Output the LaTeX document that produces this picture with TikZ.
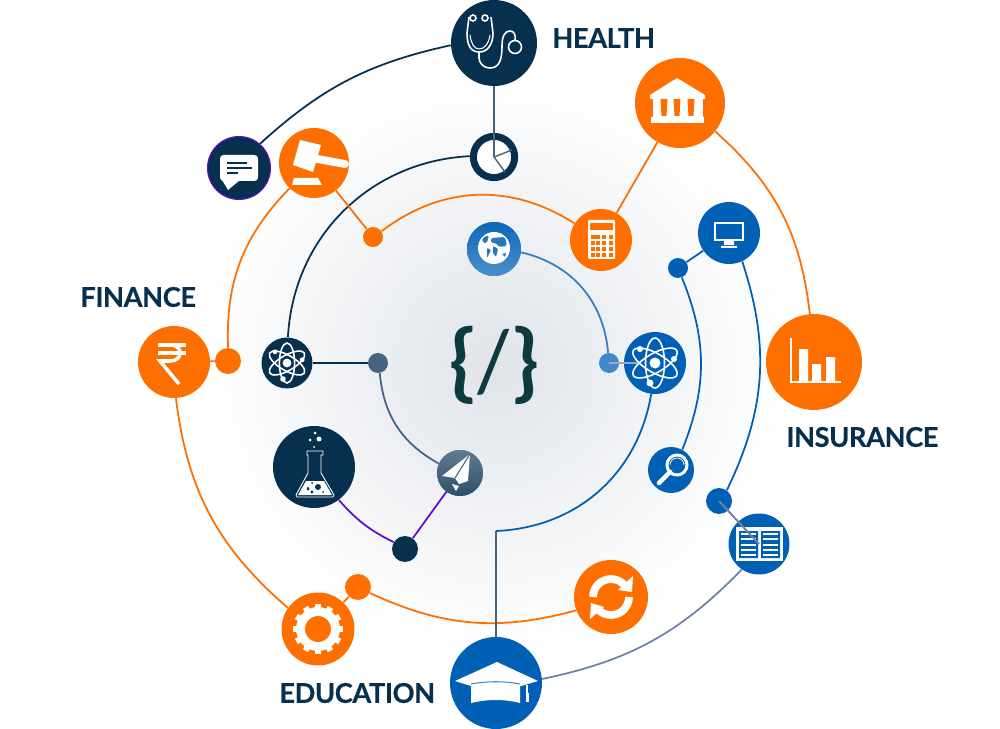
\documentclass[tikz,border=0pt]{standalone}
\usepackage{fontspec}
\setmainfont{Lato}
\newfontfamily\lblfont[FakeBold=0.4,LetterSpace=-1.5]{Lato Bold}
\definecolor{dorange}{HTML}{FF6F00}
\definecolor{dnavy}{HTML}{07304F}
\definecolor{dblue}{HTML}{0060B5}
\definecolor{dviolet}{HTML}{5B10D0}
\definecolor{dslate}{HTML}{46647F}
\definecolor{dsteel}{HTML}{6F82A6}
\definecolor{dteal}{HTML}{0C3A3E}
\definecolor{dhaze}{HTML}{E0E4E9}
\tikzset{
	orb/.style 2 args={circle,inner sep=0pt,fill=#1,minimum size=#2*0.04cm},
	odot/.style={orb={dorange}{#1}},
	ndot/.style={orb={dnavy}{#1}},
	bdot/.style={orb={dblue}{#1}},
	oline/.style={dorange,line width=1pt},
	nline/.style={dnavy,line width=1pt},
	bline/.style={dblue,line width=1pt},
	vline/.style={dviolet,line width=1pt},
	sline/.style={dslate,line width=1pt},
	glyph/.style={draw=white,line width=0.9pt},
	lbl/.style={anchor=west,inner sep=0pt,text=dnavy,font=\fontsize{15.5}{18}\lblfont},
	atomsym/.pic={
		\foreach \a in {30,90,150} {
			\draw [glyph,rotate=\a] (0,0) ellipse (25 and 9.5);
		}
		\fill [white] (0,0) circle (5.5);
		\fill [white] (-15,-14) circle (3);
		\fill [white] (19,-4) circle (3);
		\fill [white] (-5,20) circle (3.5);
	}
}
\begin{document}
\begin{tikzpicture}[x=0.02cm,y=-0.02cm]
	\useasboundingbox (0,0) rectangle (1000,729);
	\shade [inner color=dhaze,outer color=white] (494,365) circle (290);

	\node [ndot=43] (health) at (494,43) {};
	\node [circle,draw=dnavy,fill=white,line width=4pt,inner sep=0pt,minimum size=1.65cm/2] (pie) at (494,157) {};
	\node [ndot=31.5,draw=dviolet,line width=0.6pt] (chat) at (239,168) {};
	\node [odot=35] (gavel) at (314,163) {};
	\node [odot=10] (jointa) at (373,237) {};
	\node [odot=31] (calc) at (601,240) {};
	\node [odot=45] (bank) at (680,103) {};
	\node [odot=48] (chart) at (814,362) {};
	\node [bdot=31] (monitor) at (729,233) {};
	\node [bdot=10] (jointb) at (678,268) {};
	\node [bdot=31] (atomr) at (655,363) {};
	\node [orb={dblue!75!white}{10}] (jointc) at (609,363) {};
	\node [orb={dblue}{27},top color=dblue!95!white,bottom color=dblue!70!white] (globe) at (494,249) {};
	\node [bdot=23] (lens) at (671,470) {};
	\node [bdot=13] (jointd) at (719,501) {};
	\node [bdot=30.5] (book) at (759,544) {};
	\node [odot=37] (renew) at (611,597) {};
	\node [bdot=46] (grad) at (496,683) {};
	\node [odot=36.5] (gear) at (318,629) {};
	\node [odot=13] (jointe) at (358,587) {};
	\node [odot=36] (rupee) at (174,362) {};
	\node [odot=13] (jointf) at (228,361) {};
	\node [ndot=25.5] (atoml) at (287,363) {};
	\node [orb={dslate}{10}] (jointg) at (378,363) {};
	\node [orb={dslate}{23},top color=dslate!85!white,bottom color=dnavy!85!white] (plane) at (460,473) {};
	\node [ndot=41] (flask) at (314,467) {};
	\node [ndot=13] (jointh) at (405,549) {};
	\coordinate (corner) at (496,531);
	\coordinate (atomtip) at (637,363);

	\node [lbl] (lhealth) at (552,38) {HEALTH};
	\node [lbl] (lfinance) at (80,297) {FINANCE};
	\node [lbl] (linsurance) at (786,437) {INSURANCE};
	\node [lbl] (leducation) at (279,693) {EDUCATION};
	\node [text=dteal,font=\fontsize{48}{54}\selectfont] (code) at (494,365) {\textbf{\{}/\textbf{\}}};

	\draw [nline] (chat.49) to [bend left=15] (health.183);
	\draw [nline] (pie.178) to [bend right=42] (atoml.88);
	\draw [oline] (gavel.226) to [bend right=23] (jointf.90);
	\draw [oline] (gavel) -- (jointa);
	\draw [oline] (jointa.34) to [bend left=35] (calc.148);
	\draw [oline] (calc) -- (bank);
	\draw [oline] (bank.321) to [bend left=21] (chart.95);
	\draw [oline] (rupee) -- (jointf);
	\draw [oline] (rupee.273) to [bend right=21] (gear.145);
	\draw [oline] (gear) -- (jointe);
	\draw [oline] (jointe.333) to [bend right=20] (renew.201);
	\draw [dblue!80!white,line width=1pt] (globe.353) to [bend left=36] (jointc.95);
	\draw [bline] (atomr.263) to [bend left=39] (corner);
	\draw [dslate,line width=1.1pt] (corner) -- (grad);
	\draw [bline] (monitor) -- (jointb);
	\draw [bline] (jointb.292) to [bend left=22] (lens.61);
	\draw [bline] (monitor.295) to [bend left=22] (jointd.54);
	\draw [dsteel,line width=1pt] (book.236) to [bend left=17] (grad.5);
	\draw [nline] (atoml) -- (jointg);
	\draw [sline] (jointg.280) to [bend right=28] (plane.156);
	\draw [vline] (plane) -- (jointh);
	\draw [vline] (flask.307) to [bend right=11] (jointh.149);

	% stethoscope
	\draw [glyph] (473,18) circle (3) (485,18) circle (3) (515,47) circle (6.5);
	\draw [glyph] (469,17) -- (467,33) .. controls (467,44) and (470,52) .. (479,52) .. controls (488,52) and (493,44) .. (493,33) -- (491,17);
	\draw [glyph,line width=0.6pt] (470,35) .. controls (471,43) and (474,49) .. (479,49) .. controls (485,49) and (489,43) .. (490,35);
	\draw [glyph] (479,52) -- (479,58) .. controls (480,66) and (486,68) .. (490,68) .. controls (500,68) and (502,58) .. (502,46) .. controls (502,36) and (505,31) .. (510,31) .. controls (514,31) and (516,35) .. (515,40);
	% pie
	\draw [dslate,line width=1.4pt] (health) -- (pie.center);
	\draw [dslate,line width=0.8pt] (512,150) -- (pie.center) -- (505,172);
	% chat
	\fill [white,rounded corners=2pt] (220,155) rectangle (258,181);
	\fill [white] (222,180) -- (228,190) -- (240,180) -- cycle;
	\draw [dnavy,line width=0.8pt] (227,163) -- (247,163) (227,168) -- (252,168) (227,173) -- (238,173);
	% gavel
	\fill [white] (300,140) -- (321,145) -- (313,172) -- (293,165) -- cycle;
	\draw [white,line width=4.5pt,line cap=round] (312,158) -- (345,164);
	\fill [white] (294,178) -- (318,178) -- (322,185) -- (292,185) -- cycle;
	% calculator
	\fill [white,rounded corners=0.5pt] (588,220) rectangle (615,259);
	\fill [dorange] (590,223) rectangle (613,230);
	\fill [dorange] (591,235) rectangle (600,239);
	\foreach \x/\y in {604/237,611/237} { \fill [dorange] (\x-2,\y-2) rectangle (\x+2,\y+2); }
	\foreach \y in {243,249,255} {
		\foreach \x in {593,598,604,611} {
			\fill [dorange] (\x-1.8,\y-1.8) rectangle (\x+1.8,\y+1.8);
		}
	}
	% bank
	\fill [white] (677,78) -- (705,95) -- (705,99) -- (650,99) -- (650,95) -- cycle;
	\fill [white] (653,98) rectangle (703,118);
	\fill [white] (651,117) rectangle (704,123);
	\foreach \x in {664,677,691} {
		\fill [dorange] (\x-3.5,99) -- (\x+3.5,99) -- (\x+2.5,116) -- (\x-2.5,116) -- cycle;
	}
	% bars
	\draw [white,line width=0.6pt] (791,338) -- (791,382) -- (841,382);
	\fill [white] (799,349) rectangle (808,382) (812,364) rectangle (821,382) (826,357) rectangle (835,382);
	% monitor
	\draw [white,line width=1.3pt] (715,223) rectangle (743,240);
	\fill [white] (724,241) rectangle (734,245) (721,246) rectangle (737,248);
	% atoms
	\pic at (atomr) {atomsym};
	\pic [scale=0.8] at (atoml) {atomsym};
	\draw [dsteel!70!white,line width=0.8pt] (jointc.center) -- (atomtip);
	% globe
	\fill [white] (494,248) circle (16);
	\fill [dblue!85!white,rounded corners=1pt] (482,238) -- (489,235) -- (487,243) -- (483,243) -- cycle;
	\fill [dblue!85!white,rounded corners=0.5pt] (487,248) -- (491,250) -- (487,258) -- cycle;
	\fill [dblue!85!white,rounded corners=1pt] (491,238) -- (505,237) -- (507,246) -- (499,247) -- (496,243) -- (491,243) -- cycle;
	\fill [dblue!85!white,rounded corners=0.5pt] (493,246) -- (498,249) -- (496,257) -- (493,253) -- cycle;
	\fill [dblue!85!white] (502,254) -- (506,253) -- (505,257) -- cycle;
	% lens
	\draw [white,line width=1.7pt] (677,465) circle (10);
	\draw [white,line width=0.4pt] (670,465) arc [start angle=180,end angle=360,radius=7];
	\draw [white,line width=2.6pt,line cap=round] (670,472) -- (659,483);
	% book
	\fill [white] (736,527) rectangle (783,561);
	\fill [dblue] (739,531) rectangle (758,558) (761,531) rectangle (780,558);
	\foreach \y in {534,539,545,550,555} {
		\draw [white,line width=0.6pt] (741,\y) -- (756,\y) (763,\y) -- (778,\y);
	}
	\draw [dsteel,line width=1.1pt] (jointd.center) -- (book.center);
	% renew
	\draw [white,line width=4.4pt] (593,597) arc [start angle=180,end angle=325,radius=18];
	\fill [white] (633,576) -- (632,592) -- (618,590) -- cycle;
	\draw [white,line width=4.4pt] (629,597) arc [start angle=0,end angle=140,radius=18];
	\fill [white] (590,619) -- (591,603) -- (604,607) -- cycle;
	% graduation cap
	\fill [white] (471,684) .. controls (487,680) and (505,680) .. (520,684) -- (520,703) .. controls (505,699) and (487,699) .. (471,703) -- cycle;
	\fill [white] (497,662) -- (538,681) -- (521,686) -- (471,686) -- (455,681) -- cycle;
	\draw [dblue!75!white,line width=0.6pt] (471,684) .. controls (487,681) and (505,681) .. (520,684);
	\draw [white,line width=0.6pt] (527,685) -- (527,694);
	\fill [white] (525.5,693) rectangle (528.5,702);
	% gear
	\draw [white,line width=5pt] (gear.center) circle (17.5);
	\foreach \a in {0,30,...,330} {
		\fill [white,rotate around={\a:(gear.center)}] (315,604) rectangle (321,610);
	}
	% rupee
	\draw [white,line width=2pt] (158,345) -- (186,345) (158,353) -- (186,353);
	\draw [white,line width=2pt] (169,345) .. controls (178,345) and (180,349) .. (180,353) .. controls (180,358) and (176,361) .. (170,361) -- (160,361) -- (179,384);
	% flask
	\fill [white] (315,433) circle (1.5) (319,439) circle (2.5) (310,440) circle (1.5) (314,447) circle (1);
	\draw [glyph,line width=0.5pt] (307,451) -- (323,451) -- (323,455) -- (321,455) -- (321,473) -- (334,495) -- (333,497) -- (297,497) -- (296,495) -- (308,473) -- (308,455) -- (307,455) -- cycle;
	\fill [white] (306,481) -- (324,481) -- (332,495) -- (298,495) -- cycle;
	\fill [dnavy] (318,487) circle (3) (308,488) circle (1.2) (312,483) circle (1) (308,489) circle (1.5) (323,492) circle (1) (312,492) circle (1.6);
	% plane
	\fill [white] (470,454) -- (442,476) -- (455,478) -- (459,484) -- (468,481) -- cycle;
	\fill [white] (452,484) -- (459,486) -- (456,491) -- cycle;
	\draw [dslate,line width=0.6pt] (470,454) -- (455,478);
\end{tikzpicture}
\end{document}
